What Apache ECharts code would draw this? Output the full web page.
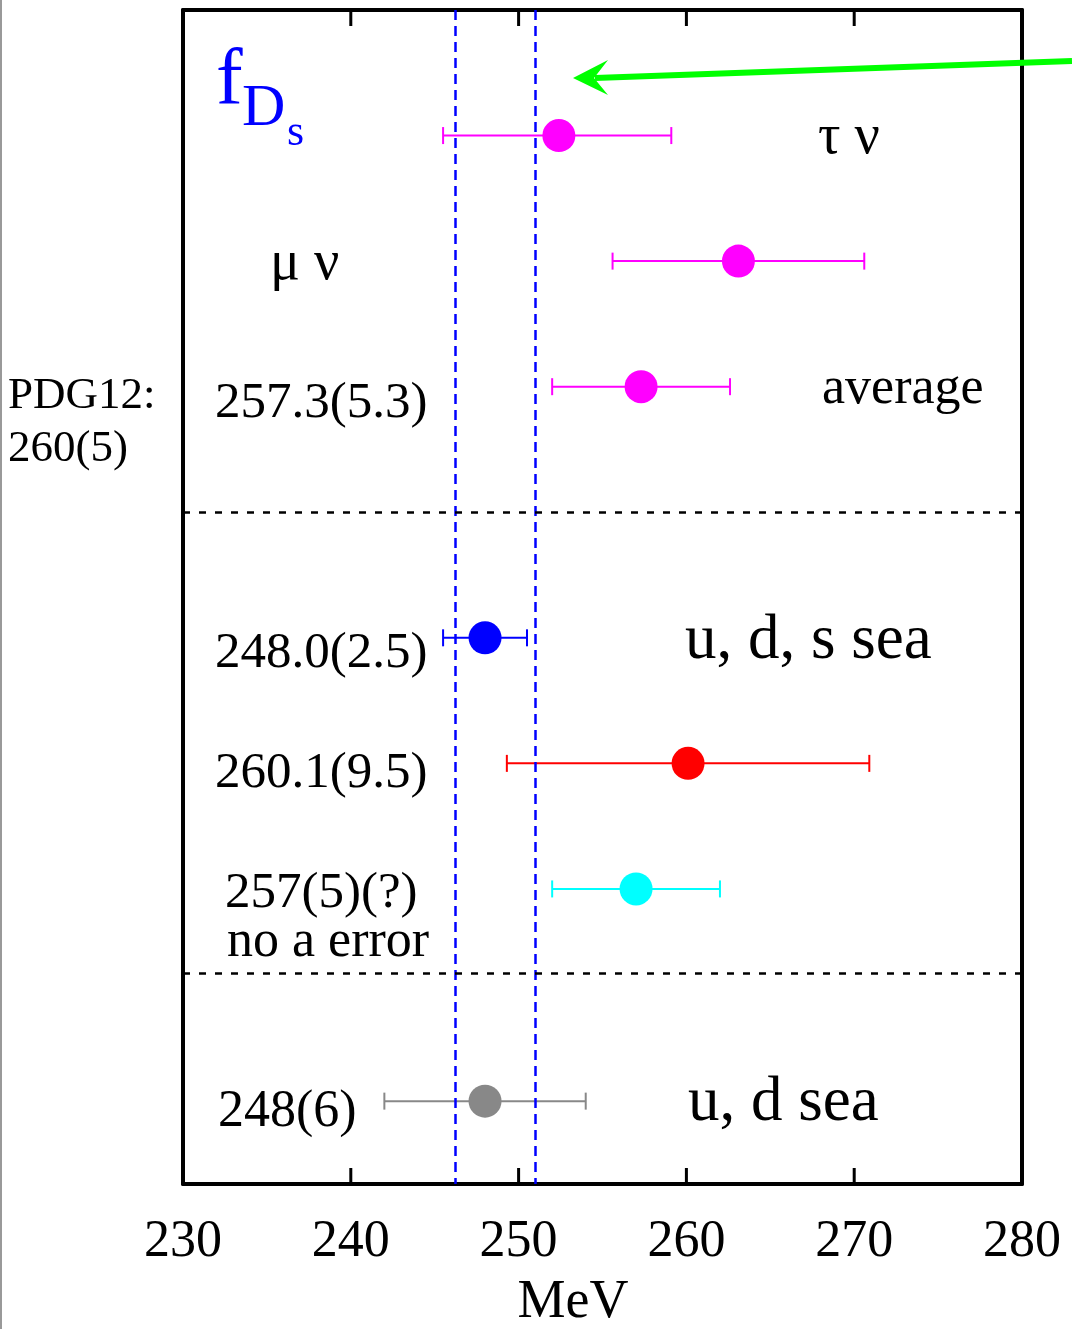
<!DOCTYPE html>
<html>
<head>
<meta charset="utf-8">
<script src="https://cdn.jsdelivr.net/npm/echarts@6/dist/echarts.min.js"></script>
<style>
  html, body { margin: 0; padding: 0; background: #fff; }
  #main { width: 1072px; height: 1329px; }
</style>
</head>
<body>
<div id="main"></div>
<script>
// values
var rows    = [1, 2, 3, 5, 6, 7, 8.69];          // row position from the top
var centers = [252.4, 263.1, 257.3, 248.0, 260.1, 257.0, 248.0];
var lows    = [245.5, 255.6, 252.0, 245.5, 249.3, 252.0, 242.0];
var highs   = [259.1, 270.6, 262.6, 250.5, 270.9, 262.0, 254.0];
var colors  = ["#ff00ff", "#ff00ff", "#ff00ff", "#0000ff", "#ff0000", "#00ffff", "#888888"];
var bandLines = [246.2, 251.0];                   // blue dashed verticals
var separators = [4, 7.67];                       // black dotted rows
var xTicks = [230, 240, 250, 260, 270, 280];
var yMax = 9.35;

var serif = "Liberation Serif";

var chart = echarts.init(document.getElementById("main"));

var barData = [];
var pointData = [];
for (var i = 0; i < centers.length; i++) {
  barData.push([lows[i], rows[i], highs[i], i]);
  pointData.push({ value: [centers[i], rows[i]], itemStyle: { color: colors[i], opacity: 1 } });
}

// inward ticks (top and bottom frame)
var topTicks = [], botTicks = [];
xTicks.slice(1, -1).forEach(function (v) {
  topTicks.push([v, 0]);
  botTicks.push([v, yMax]);
});

function renderBar(params, api) {
  var p1 = api.coord([api.value(0), api.value(1)]);
  var p2 = api.coord([api.value(2), api.value(1)]);
  var c = colors[api.value(3)];
  var h = 8.5;
  var st = { stroke: c, lineWidth: 2 };
  return {
    type: "group",
    children: [
      { type: "line", shape: { x1: p1[0], y1: p1[1], x2: p2[0], y2: p2[1] }, style: st },
      { type: "line", shape: { x1: p1[0], y1: p1[1] - h, x2: p1[0], y2: p1[1] + h }, style: st },
      { type: "line", shape: { x1: p2[0], y1: p2[1] - h, x2: p2[0], y2: p2[1] + h }, style: st }
    ]
  };
}

function txt(x, y, s, size, color, align) {
  return {
    type: "text", x: x, y: y, z: 50,
    style: {
      text: s, fontFamily: serif, fontSize: size, fill: color || "#000",
      align: align || "left", verticalAlign: "middle"
    }
  };
}

var axisLineStyle = { show: true, onZero: false, lineStyle: { color: "#000", width: 4 } };

chart.setOption({
  animation: false,
  grid: { left: 183, top: 10, right: 50, bottom: 145 },
  xAxis: [
    {
      type: "value", min: xTicks[0], max: xTicks[xTicks.length - 1], interval: 10,
      position: "bottom",
      axisLine: axisLineStyle, axisTick: { show: false }, splitLine: { show: false },
      axisLabel: { fontFamily: serif, fontSize: 52, color: "#000", margin: 32 }
    },
    {
      type: "value", min: xTicks[0], max: xTicks[xTicks.length - 1], interval: 10,
      position: "top",
      axisLine: axisLineStyle, axisTick: { show: false }, splitLine: { show: false },
      axisLabel: { show: false }
    }
  ],
  yAxis: [
    {
      type: "value", inverse: true, min: 0, max: yMax, position: "left",
      axisLine: axisLineStyle, axisTick: { show: false }, axisLabel: { show: false },
      splitLine: { show: false }
    },
    {
      type: "value", inverse: true, min: 0, max: yMax, position: "right",
      axisLine: axisLineStyle, axisTick: { show: false }, axisLabel: { show: false },
      splitLine: { show: false }
    }
  ],
  series: [
    {
      type: "scatter", symbol: "rect", symbolSize: [3, 16], symbolOffset: [0, 8],
      clip: false, silent: true, z: 6,
      itemStyle: { color: "#000", opacity: 1 },
      data: topTicks
    },
    {
      type: "scatter", symbol: "rect", symbolSize: [3, 16], symbolOffset: [0, -8],
      clip: false, silent: true, z: 6,
      itemStyle: { color: "#000", opacity: 1 },
      data: botTicks
    },
    {
      type: "custom",
      renderItem: renderBar,
      encode: { x: [0, 2], y: 1 },
      data: barData,
      z: 3,
      markLine: {
        silent: true,
        symbol: "none",
        label: { show: false },
        data: bandLines.map(function (v) {
          return { xAxis: v, lineStyle: { color: "#0000ff", width: 2.5, type: [10, 6] } };
        }).concat(separators.map(function (v) {
          return { yAxis: v, lineStyle: { color: "#000", width: 2.5, type: [7, 9] } };
        }))
      }
    },
    {
      type: "scatter",
      symbol: "circle",
      symbolSize: 33,
      data: pointData,
      z: 4
    }
  ],
  graphic: [
    // page edge
    { type: "line", shape: { x1: 1, y1: 0, x2: 1, y2: 1329 }, style: { stroke: "#777", lineWidth: 1.5 } },
    // green arrow
    { type: "line", z: 60, shape: { x1: 1072, y1: 61, x2: 595, y2: 78 }, style: { stroke: "#00ff00", lineWidth: 6 } },
    { type: "polygon", z: 60, shape: { points: [[573, 78], [608, 60], [594, 78], [608, 95]] }, style: { fill: "#00ff00" } },
    // f_Ds
    txt(216, 83, "f", 80, "#0000ff"),
    txt(242, 109, "D", 60, "#0000ff"),
    txt(287, 133, "s", 44, "#0000ff"),
    // labels
    txt(818, 138, "τ ν", 56),
    txt(270, 264, "μ ν", 56),
    txt(215, 404, "257.3(5.3)", 51),
    txt(822, 389, "average", 52),
    txt(8, 396, "PDG12:", 45),
    txt(8, 449, "260(5)", 45),
    txt(215, 654, "248.0(2.5)", 51),
    txt(685, 641, "u, d, s sea", 63),
    txt(215, 774, "260.1(9.5)", 51),
    txt(225, 894, "257(5)(?)", 51),
    txt(227, 942, "no a error", 52),
    txt(218, 1112, "248(6)", 52),
    txt(688, 1103, "u, d sea", 63),
    txt(573, 1303, "MeV", 54, "#000", "center")
  ]
});
</script>
</body>
</html>
